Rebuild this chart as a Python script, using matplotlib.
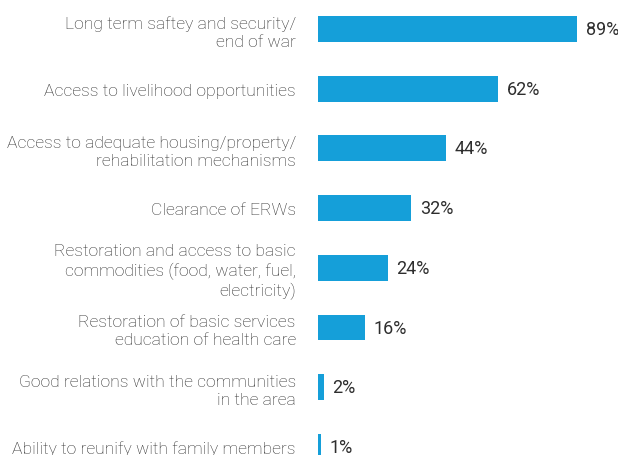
import numpy as np
import matplotlib.pyplot as plt

labels = ['Long term saftey and security/\nend of war',
          'Access to livelihood opportunities',
          'Access to adequate housing/property/\nrehabilitation mechanisms',
          'Clearance of ERWs',
          'Restoration and access to basic\ncommodities (food, water, fuel,\nelectricity)',
          'Restoration of basic services\neducation of health care',
          'Good relations with the communities\nin the area',
          'Ability to reunify with family members']
values = [89, 62, 44, 32, 24, 16, 2, 1]

W, H = 618, 456
fig = plt.figure(figsize=(W / 100, H / 100), dpi=100)
ax = fig.add_axes([318 / W, 0, 291 / W, 1])

y = np.arange(len(values))
ax.barh(y, values, height=0.435, color='#159fd9')
ax.set_xlim(0, 100)
ax.set_ylim((456 - 30) / 59.7, -30 / 59.7)

ax.set_yticks(y)
ax.set_yticklabels(labels, family='Roboto', fontweight='light', fontsize=12.6,
                   color='#2e2e2e', linespacing=1.25)
ax.tick_params(axis='y', length=0, pad=16)
ax.set_xticks([])
for s in ax.spines.values():
  s.set_visible(False)

for yi, v in zip(y, values):
  ax.text(v + 3, yi, '%d%%' % v, va='center', ha='left', family='Roboto',
          fontsize=13, color='#2e2e2e')

plt.savefig('out.png', dpi=100)
